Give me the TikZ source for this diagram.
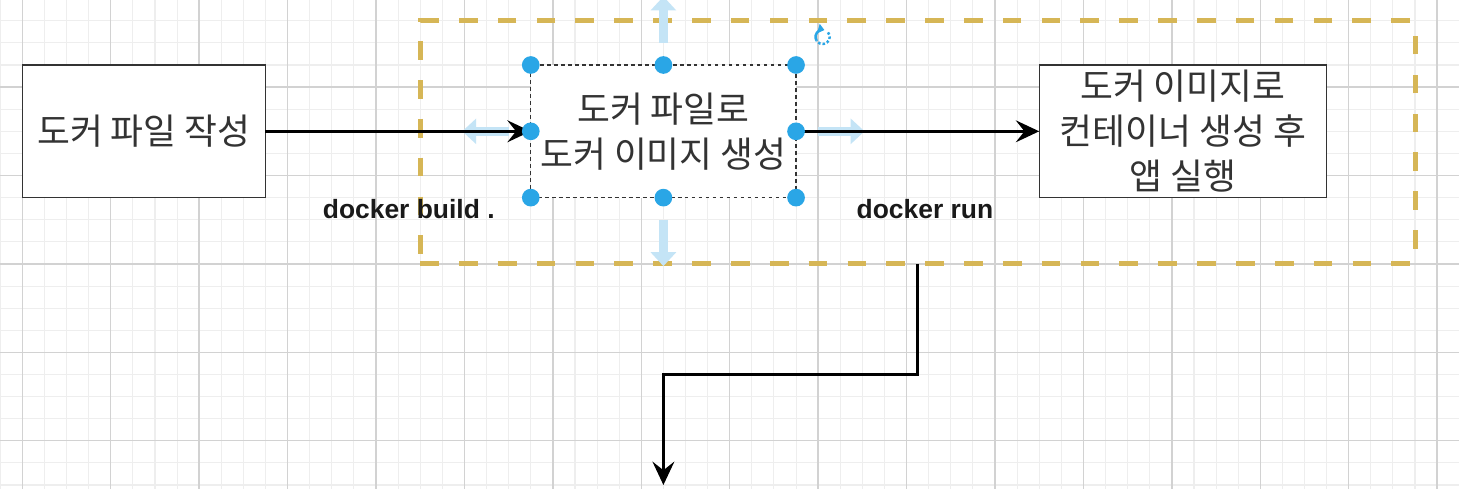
\documentclass[tikz,border=0pt]{standalone}
\usepackage{fontspec}
\usetikzlibrary{arrows.meta}
\newfontfamily\krfont{Noto Sans CJK KR}
\newfontfamily\lblfont{Liberation Sans}
\definecolor{gridmin}{HTML}{EEEEEE}
\definecolor{gridmaj}{HTML}{D2D2D2}
\definecolor{gold}{HTML}{D6B656}
\definecolor{selblue}{HTML}{2AA6E6}
\definecolor{hoverblue}{HTML}{C4E4F6}
\definecolor{ink}{HTML}{333333}

\begin{document}
\begin{tikzpicture}[x=0.5cm,y=-0.5cm,node distance=11.75cm,
    >={Stealth[length=15pt,width=14pt,inset=5.5pt]},
    gridminor/.style={gridmin,line width=0.7pt},
    gridmajor/.style={gridmaj,line width=0.9pt},
    box/.style={draw=ink,line width=0.9pt,fill=white,inner sep=0pt,outer sep=0pt,
      minimum height=3cm,text=ink,align=center,font=\krfont\fontsize{23}{29}\selectfont},
    selbox/.style={box,draw=ink,line width=0.75pt,dash pattern=on 2.5pt off 2pt},
    grp/.style={draw=gold,line width=3.2pt,dash pattern=on 12pt off 13pt,inner sep=0pt,
      outer sep=0pt,minimum width=22.5cm,minimum height=5.5cm},
    flow/.style={->,line width=2.1pt},
    lbl/.style={font=\lblfont\bfseries\fontsize{17}{19}\selectfont,text=black!90,inner sep=0pt},
    handle/.style={fill=selblue},
    hover/.style={hoverblue,line width=5.5pt,-{Triangle[length=9pt,width=16pt]}},
  ]
  \useasboundingbox (-1.01,0.06) rectangle (64.99,22.18);
  \fill[white] (-1.01,0.06) rectangle (64.99,22.18);
  % grid
  \foreach \gx in {-1,...,64} \draw[gridminor] (\gx,0.06) -- (\gx,22.18);
  \foreach \gy in {0,...,22} \draw[gridminor] (-1.01,\gy) -- (64.99,\gy);
  \foreach \gx in {0,4,...,64} \draw[gridmajor] (\gx,0.06) -- (\gx,22.18);
  \foreach \gy in {0,4,...,20} \draw[gridmajor] (-1.01,\gy) -- (64.99,\gy);

  \node[grp] (grp) at (40.5,6.5) {};
  \node[box,minimum width=5.5cm] (b_0) at (5.5,6) {도커 파일 작성};
  \node[selbox,minimum width=6cm] (b_1) [right of= b_0] {도커 파일로\\도커 이미지 생성};
  \node[box,minimum width=6.5cm] (b_2) [right of= b_1] {도커 이미지로\\컨테이너 생성 후\\앱 실행};
  \coordinate (nxt) at (29,22);

  % hover arrows round the selected shape
  \draw[hover] ([yshift=0.5cm]b_1.north) -- ++(0,1.05cm);
  \draw[hover] ([yshift=-0.5cm]b_1.south) -- ++(0,-1.05cm);
  \draw[hover] ([xshift=-0.5cm]b_1.west) -- ++(-1.05cm,0);
  \draw[hover] ([xshift=0.5cm]b_1.east) -- ++(1.05cm,0);

  \draw[flow] (b_0) to node[lbl,pos=0.54,below=1.5cm] {docker build .} (b_1);
  \draw[flow] (b_1) to node[lbl,pos=0.53,below=1.5cm] {docker run} (b_2);
  \draw[flow] (grp.south) -- ++(0,5) -| (nxt);

  % selection handles
  \foreach \a in {north west,north,north east,west,east,south west,south,south east}
    \fill[handle] (b_1.\a) circle (0.2cm);
  \coordinate (rot) at (36.2,1.73);
  \draw[selblue,line width=1.6pt,-{Triangle[length=4pt,width=6pt]}] (rot) ++(210:0.16cm) arc (210:75:0.16cm);
  \draw[selblue,line width=1.6pt,dash pattern=on 1.6pt off 1.3pt] (rot) ++(40:0.16cm) arc (40:-150:0.16cm);
\end{tikzpicture}
\end{document}
